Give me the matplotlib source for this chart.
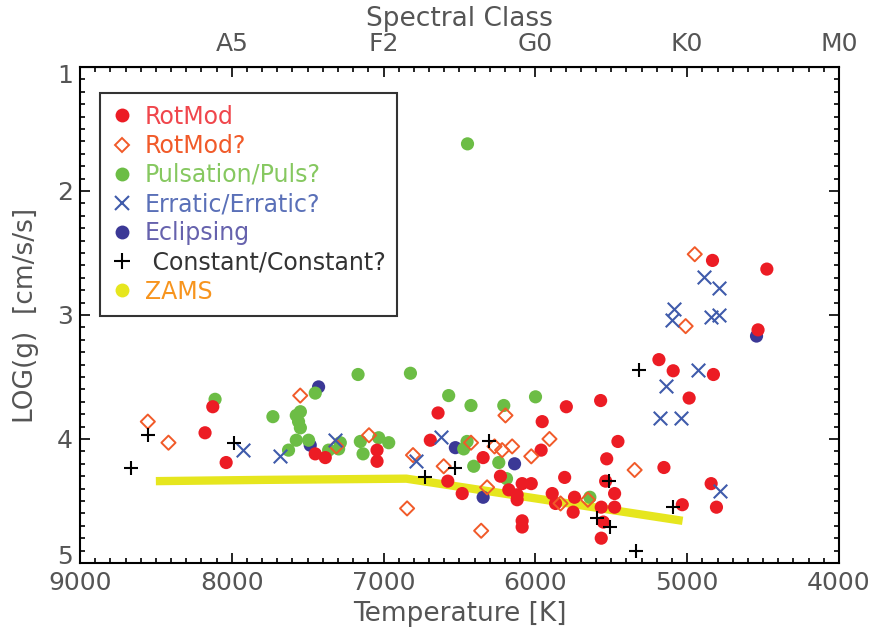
import numpy as np
import matplotlib.pyplot as plt
from matplotlib.lines import Line2D
from matplotlib.ticker import MultipleLocator
from matplotlib.transforms import ScaledTranslation

# RotMod (red filled circles)
rot_T = [8125, 8176, 8037, 7450, 7384, 7043, 7043, 6641, 6692, 6577, 6482, 6344,
         6230, 6175, 6120, 6120, 6087, 6027, 6087, 6087, 5955, 5962, 5889, 5867,
         5807, 5796, 5742, 5751, 5570, 5530, 5537, 5478, 5478, 5456, 5566, 5552,
         5566, 5186, 5153, 4833, 4475, 4533, 5092, 4827, 4987, 4842, 5032, 4807]
rot_g = [3.74, 3.95, 4.19, 4.12, 4.15, 4.09, 4.18, 3.79, 4.01, 4.34, 4.44, 4.15,
         4.30, 4.41, 4.45, 4.49, 4.36, 4.36, 4.66, 4.71, 3.86, 4.09, 4.44, 4.52,
         4.31, 3.74, 4.47, 4.59, 3.69, 4.16, 4.34, 4.44, 4.55, 4.02, 4.55, 4.67,
         4.80, 3.36, 4.23, 2.56, 2.63, 3.12, 3.45, 3.48, 3.67, 4.36, 4.53, 4.55]

# RotMod? (open diamonds)
rotq_T = [8553, 8417, 7549, 7311, 7096, 6806, 6845, 6604, 6424, 6318, 6357, 6269,
          6219, 6153, 6197, 6027, 5907, 5834, 5654, 5346, 4950, 5010]
rotq_g = [3.86, 4.03, 3.65, 4.06, 3.97, 4.13, 4.56, 4.22, 4.03, 4.39, 4.74, 4.06,
          4.09, 4.06, 3.81, 4.14, 4.00, 4.52, 4.49, 4.25, 2.51, 3.09]

# Pulsation/Puls?
puls_T = [8110, 7729, 7626, 7575, 7548, 7560, 7548, 7575, 7494, 7450, 7362, 7296,
          7285, 7168, 7153, 7135, 7032, 6966, 6823, 6571, 6472, 6450, 6424, 6406,
          6208, 6241, 6190, 5999, 5641, 6447]
puls_g = [3.68, 3.82, 4.09, 3.81, 3.78, 3.86, 3.91, 4.01, 4.01, 3.63, 4.09, 4.08,
          4.03, 3.48, 4.02, 4.12, 3.99, 4.03, 3.47, 3.65, 4.08, 4.02, 3.73, 4.22,
          3.73, 4.19, 4.32, 3.66, 4.47, 1.62]

# Erratic/Erratic?
err_T = [7923, 7681, 7318, 6784, 6619, 5141, 5179, 4889, 4790, 5086, 5097, 4845,
         4790, 4926, 5042, 4783]
err_g = [4.09, 4.14, 4.01, 4.18, 3.98, 3.57, 3.83, 2.69, 2.78, 2.95, 3.04, 3.02,
         3.00, 3.44, 3.83, 4.42]

# Eclipsing
ecl_T = [7428, 7483, 6527, 6344, 6137, 4543]
ecl_g = [3.58, 4.05, 4.07, 4.47, 4.20, 3.17]

# Constant/Constant?
const_T = [8551, 8666, 7982, 6724, 6527, 6307, 5515, 5592, 5510, 5335, 5318, 5093]
const_g = [3.97, 4.23, 4.03, 4.31, 4.23, 4.02, 4.34, 4.64, 4.71, 4.90, 3.44, 4.55]

# ZAMS
zams_T = [8500, 7800, 6850, 5030]
zams_g = [4.34, 4.33, 4.32, 4.66]

spec_T = [8000, 7000, 6000, 5000, 4000]
spec_labels = ['A5', 'F2', 'G0', 'K0', 'M0']

c_red = '#ec1c24'
c_orange = '#f15a29'
c_green = '#6cbd45'
c_blue = '#3f5bab'
c_ecl = '#3b3896'
c_yellow = '#e6e61e'
c_text = '#555555'

plt.rcParams['font.family'] = ['DejaVu Sans']

fig = plt.figure(figsize=(8.73, 6.44), dpi=100)
ax = fig.add_axes([0.0916, 0.1258, 0.8694, 0.7702])

# 繪製 ZAMS 和各類星
ax.plot(zams_T, zams_g, color=c_yellow, lw=6, solid_capstyle='butt', zorder=1)
ax.scatter(ecl_T, ecl_g, s=90, color=c_ecl, edgecolors='none', zorder=2)
ax.scatter(puls_T, puls_g, s=90, color=c_green, edgecolors='none', zorder=3)
ax.scatter(rot_T, rot_g, s=90, color=c_red, edgecolors='none', zorder=4)
ax.scatter(rotq_T, rotq_g, s=52, marker='D', facecolors='none',
           edgecolors=c_orange, linewidths=1.4, zorder=5)
ax.scatter(err_T, err_g, s=95, marker='x', color=c_blue, linewidths=1.5, zorder=6)
ax.scatter(const_T, const_g, s=100, marker='+', color='black', linewidths=1.5, zorder=7)

ax.set_xlim(9000, 4000)
ax.set_ylim(5, 1)
ax.set_xticks([9000, 8000, 7000, 6000, 5000, 4000])
ax.set_yticks([1, 2, 3, 4, 5])
ax.xaxis.set_minor_locator(MultipleLocator(100))
ax.yaxis.set_minor_locator(MultipleLocator(0.1))
ax.tick_params(which='both', direction='in', top=False, right=True, width=1.2,
               colors='black', labelcolor=c_text, labelsize=18)
ax.tick_params(which='major', length=7)
ax.tick_params(which='minor', length=3.5)
ax.tick_params(axis='x', pad=6)
ax.tick_params(axis='y', pad=5)
for sp in ax.spines.values():
    sp.set_linewidth(1.5)

# keep the end labels inside the frame: nudge 1 down and 5 up
ylabs = ax.get_yticklabels()
ylabs[0].set_transform(ylabs[0].get_transform() + ScaledTranslation(0, -5 / 72, fig.dpi_scale_trans))
ylabs[-1].set_transform(ylabs[-1].get_transform() + ScaledTranslation(0, 6 / 72, fig.dpi_scale_trans))

ax.set_xlabel('Temperature [K]', fontsize=19, color=c_text, labelpad=4)
ax.set_ylabel('LOG(g)  [cm/s/s]', fontsize=19, color=c_text, labelpad=13)

# 上方的光譜型軸
sec = ax.secondary_xaxis('top')
sec.set_xticks(spec_T, labels=spec_labels)
sec.xaxis.set_minor_locator(MultipleLocator(100))
sec.tick_params(which='both', direction='in', width=1.2, labelcolor=c_text,
                labelsize=18, pad=8)
sec.tick_params(which='major', length=7)
sec.tick_params(which='minor', length=3.5)
sec.set_xlabel('Spectral Class', fontsize=19, color=c_text, labelpad=4)

# 圖例
handles = [
    Line2D([], [], ls='none', marker='o', ms=10, color=c_red, mec='none'),
    Line2D([], [], ls='none', marker='D', ms=7, mfc='none', mec=c_orange, mew=1.4),
    Line2D([], [], ls='none', marker='o', ms=10, color=c_green, mec='none'),
    Line2D([], [], ls='none', marker='x', ms=10, color=c_blue, mew=1.5),
    Line2D([], [], ls='none', marker='o', ms=10, color=c_ecl, mec='none'),
    Line2D([], [], ls='none', marker='+', ms=11, color='black', mew=1.5),
    Line2D([], [], ls='none', marker='o', ms=10, color=c_yellow, mec='none'),
]
labels = ['RotMod', 'RotMod?', 'Pulsation/Puls?', 'Erratic/Erratic?', 'Eclipsing',
          ' Constant/Constant?', 'ZAMS']
label_colors = ['#f0464c', c_orange, '#86c860', '#5a70b8', '#6662ad', '#333333', '#f7941d']

leg = ax.legend(handles, labels, loc='upper left', bbox_to_anchor=(0.026, 0.948),
                borderaxespad=0, fontsize=17, frameon=True, fancybox=False,
                edgecolor='black', handlelength=0.9, handletextpad=0.5,
                labelspacing=0.22, borderpad=0.5)
leg.get_frame().set_linewidth(1.5)
for txt, col in zip(leg.get_texts(), label_colors):
    txt.set_color(col)

fig.savefig('out.png', dpi=100)
